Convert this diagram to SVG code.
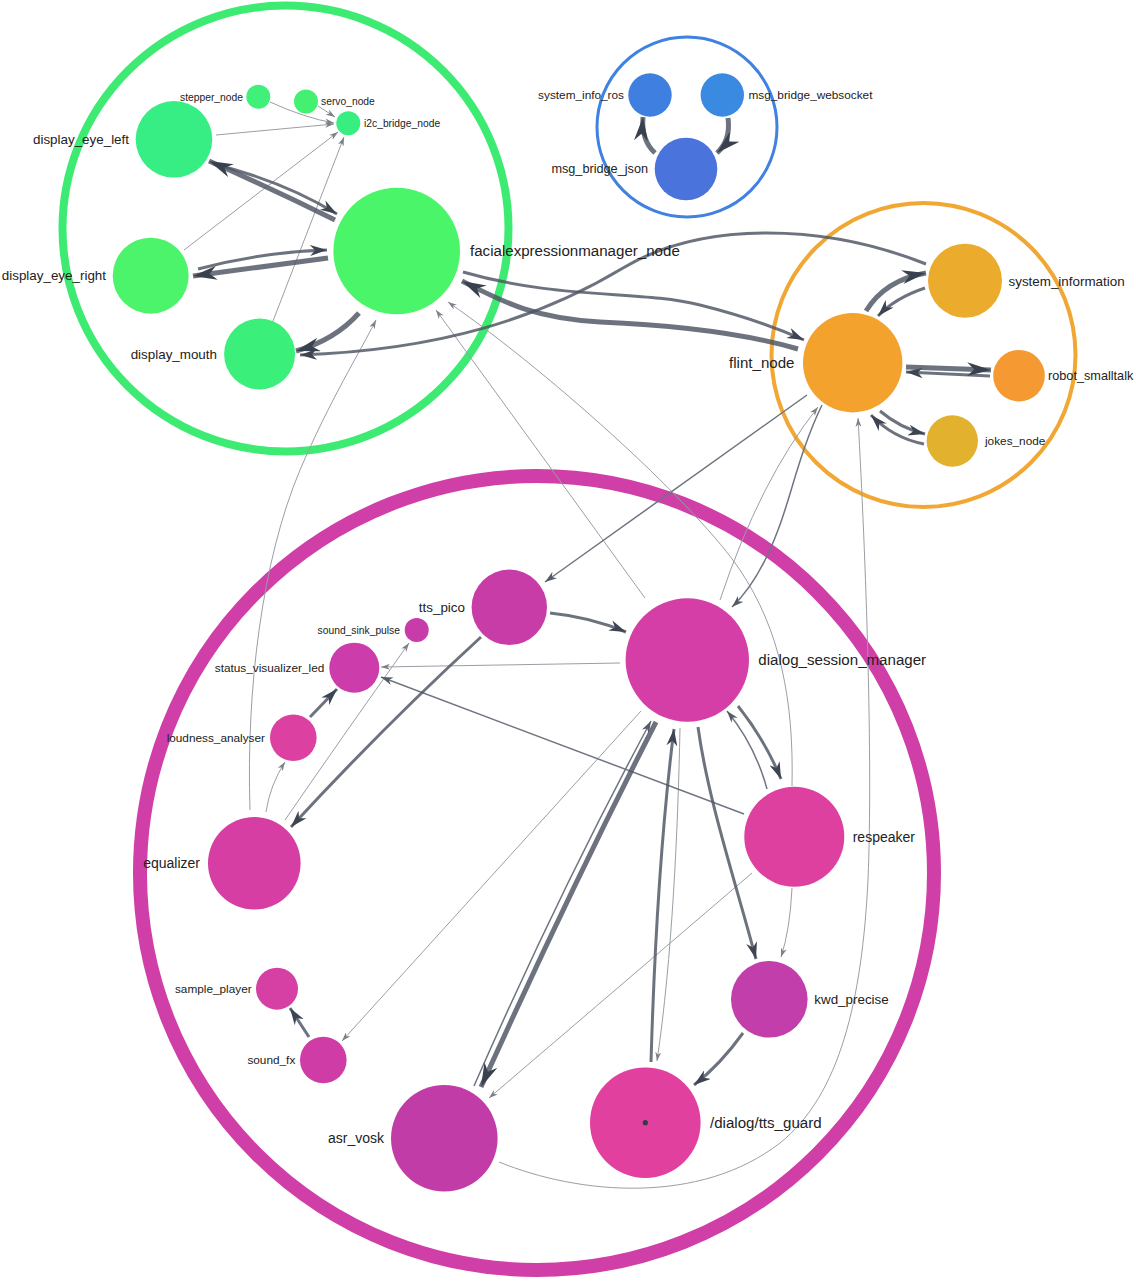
<svg xmlns="http://www.w3.org/2000/svg" width="1136" height="1287" viewBox="0 0 1136 1287">
<style>
.cl{fill:none}
.e{fill:none}
.lt{stroke:#9a9ea5;stroke-width:1}
.md{stroke:#6f7580;stroke-width:1.5}
.w3{stroke:#4d5462;stroke-opacity:.82;stroke-width:3}
.w5{stroke:#4d5462;stroke-opacity:.82;stroke-width:5}
text{font-family:"Liberation Sans",Arial,sans-serif;fill:#222}
.t10{font-size:10.3px}
.t12{font-size:11.8px}
.t13{font-size:12.7px}
.t135{font-size:13.4px}
.t14{font-size:14px}
.t15{font-size:15.1px}
.r{text-anchor:end}
</style>
<defs>
<marker id="aS" viewBox="0 0 10 10" refX="10" refY="5" markerWidth="9" markerHeight="6" preserveAspectRatio="none" markerUnits="userSpaceOnUse" orient="auto"><path d="M0,0 L10,5 L0,10 L3,5 z" fill="#7c8189"/></marker>
<marker id="aD" viewBox="0 0 10 10" refX="10" refY="5" markerWidth="12" markerHeight="8" preserveAspectRatio="none" markerUnits="userSpaceOnUse" orient="auto"><path d="M0,0 L10,5 L0,10 L3,5 z" fill="#555c68"/></marker>
<marker id="aM" viewBox="0 0 10 10" refX="10" refY="5" markerWidth="17" markerHeight="11" preserveAspectRatio="none" markerUnits="userSpaceOnUse" orient="auto"><path d="M0,0 L10,5 L0,10 L3,5 z" fill="#3e4552"/></marker>
<marker id="aL" viewBox="0 0 10 10" refX="10" refY="5" markerWidth="24" markerHeight="14" preserveAspectRatio="none" markerUnits="userSpaceOnUse" orient="auto"><path d="M0,0 L10,5 L0,10 L3,5 z" fill="#3a414e"/></marker>
</defs>
<rect width="1136" height="1287" fill="#fff"/>
<g id="clusters">
<circle id="cluster-green" class="cl" cx="285.5" cy="228.5" r="223" stroke="#3deb72" stroke-width="8"/>
<circle id="cluster-blue" class="cl" cx="687" cy="127" r="90" stroke="#3f82e0" stroke-width="3"/>
<circle id="cluster-orange" class="cl" cx="923.5" cy="355" r="152" stroke="#f1a733" stroke-width="4"/>
<circle id="cluster-magenta" class="cl" cx="537" cy="873" r="397" stroke="#d03ea8" stroke-width="14"/>
</g>
<g id="connectors">
<g marker-end="url(#aS)">
<path class="e lt" d="M270,102 Q305,118 334,123"/>
<path class="e lt" d="M318,106 L335,117"/>
<path class="e lt" d="M216,135 L334,124"/>
<path class="e lt" d="M184,250 L338,132"/>
<path class="e lt" d="M273,321 L344,137"/>
<path class="e lt" d="M250,810 C246,690 262,560 300,470 C330,400 360,352 376,320"/>
<path class="e lt" d="M645,598 L436,310"/>
<path class="e lt" d="M792,786 C794,700 780,630 740,570 C700,510 560,380 448,302"/>
<path class="e lt" d="M720,600 Q760,480 818,407"/>
<path class="e lt" d="M499,1162 C580,1195 700,1205 780,1143 C840,1095 862,1000 868,880 C873,760 866,560 858,418"/>
<path class="e lt" d="M620,663 L381,667"/>
<path class="e lt" d="M266,812 Q270,785 285,762"/>
<path class="e lt" d="M285,820 Q340,740 409,643"/>
<path class="e lt" d="M641,711 L342,1041"/>
<path class="e lt" d="M752,873 L489,1098"/>
<path class="e lt" d="M680,728 C678,830 672,960 657,1061"/>
<path class="e lt" d="M792,888 Q790,930 781,957"/>
</g>
<g marker-end="url(#aD)">
<path class="e md" d="M807,395 L545,582"/>
<path class="e md" d="M744,814 L381,677"/>
<path class="e md" d="M822,405 C800,450 790,500 778,530 C765,565 750,590 732,607"/>
<path class="e md" d="M767,789 Q755,745 727,711"/>
<path class="e md" d="M474,1086 Q560,890 651,721"/>
</g>
<g marker-end="url(#aM)">
<path class="e w3" d="M214,164 Q285,182 337,214"/>
<path class="e w3" d="M198,269 Q262,252 327,250"/>
<path class="e w3" d="M926,264 C820,222 700,222 623,268 C540,318 440,350 300,355"/>
<path class="e w3" d="M463,272 C560,300 640,290 700,305 C740,315 775,327 804,340"/>
<path class="e w3" d="M925,288 Q895,298 878,316"/>
<path class="e w3" d="M880,411 Q900,428 925,434"/>
<path class="e w3" d="M924,444 Q893,438 871,415"/>
<path class="e w3" d="M990,376 L906,372"/>
<path class="e w3" d="M550,613 Q590,617 626,632"/>
<path class="e w3" d="M481,637 Q385,725 291,827"/>
<path class="e w3" d="M310,717 L337,689"/>
<path class="e w3" d="M309,1037 L290,1008"/>
<path class="e w3" d="M651,1062 C654,960 660,840 674,729"/>
<path class="e w3" d="M698,727 C708,800 735,880 756,959"/>
<path class="e w3" d="M738,706 Q765,740 781,779"/>
<path class="e w3" d="M743,1033 Q720,1065 694,1085"/>
</g>
<g marker-end="url(#aL)">
<path class="e w5" d="M335,220 Q275,190 209,161"/>
<path class="e w5" d="M328,258 L193,276"/>
<path class="e w5" d="M359,313 Q335,340 296,351"/>
<path class="e w5" d="M798,349 C740,332 670,325 600,322 C530,318 500,300 462,281"/>
<path class="e w5" d="M655,153 Q641,140 643,117"/>
<path class="e w5" d="M728,118 Q731,140 717,153"/>
<path class="e w5" d="M866,311 Q885,280 926,273"/>
<path class="e w5" d="M906,367 L991,370"/>
<path class="e w5" d="M656,722 Q570,890 481,1087"/>
</g>
</g>
<g id="stepper_node"><circle cx="258.3" cy="96.7" r="12" fill="#40f07a"/><text class="t10 r" x="243" y="100.6">stepper_node</text></g>
<g id="servo_node"><circle cx="306" cy="101.5" r="12" fill="#44f070"/><text class="t10" x="321" y="105">servo_node</text></g>
<g id="i2c_bridge_node"><circle cx="348.3" cy="123.3" r="12" fill="#38ee80"/><text class="t10" x="364" y="127">i2c_bridge_node</text></g>
<g id="display_eye_left"><circle cx="174" cy="139.3" r="38.3" fill="#36ee84"/><text class="t135 r" x="129" y="144">display_eye_left</text></g>
<g id="display_eye_right"><circle cx="150.7" cy="275.7" r="38" fill="#4cf46c"/><text class="t135 r" x="106" y="280.4">display_eye_right</text></g>
<g id="display_mouth"><circle cx="259.6" cy="354" r="35.5" fill="#3aef7a"/><text class="t135 r" x="217" y="358.7">display_mouth</text></g>
<g id="facialexpressionmanager_node"><circle cx="396.7" cy="251" r="63.3" fill="#4bf56a"/><text class="t15" x="470" y="256.3">facialexpressionmanager_node</text></g>
<g id="system_info_ros"><circle cx="650" cy="95" r="21.7" fill="#3e7fe0"/><text class="t12 r" x="624" y="99">system_info_ros</text></g>
<g id="msg_bridge_websocket"><circle cx="722.3" cy="95" r="21.7" fill="#3a8ae2"/><text class="t12" x="748.5" y="99.1">msg_bridge_websocket</text></g>
<g id="msg_bridge_json"><circle cx="686" cy="169" r="31.3" fill="#4a74dc"/><text class="t13 r" x="648" y="173.4">msg_bridge_json</text></g>
<g id="system_information"><circle cx="965" cy="280.7" r="37" fill="#ebab2d"/><text class="t135" x="1008.5" y="285.7">system_information</text></g>
<g id="flint_node"><circle cx="852.7" cy="362.7" r="49.7" fill="#f2a22d"/><text class="t15 r" x="794.5" y="368.2">flint_node</text></g>
<g id="robot_smalltalk"><circle cx="1019" cy="375.7" r="25.8" fill="#f59a33"/><text class="t13" x="1048" y="380.4">robot_smalltalk</text></g>
<g id="jokes_node"><circle cx="952.3" cy="441" r="25.7" fill="#e2b22e"/><text class="t12" x="985" y="445.1">jokes_node</text></g>
<g id="tts_pico"><circle cx="509.3" cy="607.3" r="37.7" fill="#c83ca8"/><text class="t135 r" x="465" y="612.2">tts_pico</text></g>
<g id="sound_sink_pulse"><circle cx="416.7" cy="630" r="12" fill="#c83caa"/><text class="t10 r" x="400" y="633.5">sound_sink_pulse</text></g>
<g id="status_visualizer_led"><circle cx="354.3" cy="667.7" r="25" fill="#cc3caa"/><text class="t12 r" x="324.3" y="671.9">status_visualizer_led</text></g>
<g id="loudness_analyser"><circle cx="293.3" cy="737.7" r="23.3" fill="#dc40a0"/><text class="t12 r" x="265" y="741.8">loudness_analyser</text></g>
<g id="equalizer"><circle cx="254.3" cy="863.3" r="46.3" fill="#d63ea4"/><text class="t14 r" x="200" y="868.2">equalizer</text></g>
<g id="sample_player"><circle cx="277" cy="988.7" r="21" fill="#d63fa4"/><text class="t12 r" x="251.7" y="992.8">sample_player</text></g>
<g id="sound_fx"><circle cx="323.3" cy="1060" r="23.3" fill="#d03ca6"/><text class="t12 r" x="295.3" y="1064.2">sound_fx</text></g>
<g id="asr_vosk"><circle cx="444.3" cy="1138.3" r="53.3" fill="#c23ca8"/><text class="t14 r" x="384" y="1142.9">asr_vosk</text></g>
<g id="tts_guard"><circle cx="645.3" cy="1122.7" r="55.3" fill="#e2409e"/><circle cx="645.3" cy="1122.7" r="2.6" fill="#333a48"/><text class="t15" x="710" y="1128">/dialog/tts_guard</text></g>
<g id="dialog_session_manager"><circle cx="687.3" cy="660" r="61.7" fill="#d43ea6"/><text class="t15" x="758.3" y="665.3">dialog_session_manager</text></g>
<g id="respeaker"><circle cx="794.3" cy="836.7" r="50" fill="#de40a0"/><text class="t14" x="852.7" y="841.6">respeaker</text></g>
<g id="kwd_precise"><circle cx="769.3" cy="999.3" r="38.3" fill="#c23eaa"/><text class="t135" x="814.3" y="1004">kwd_precise</text></g>
</svg>
